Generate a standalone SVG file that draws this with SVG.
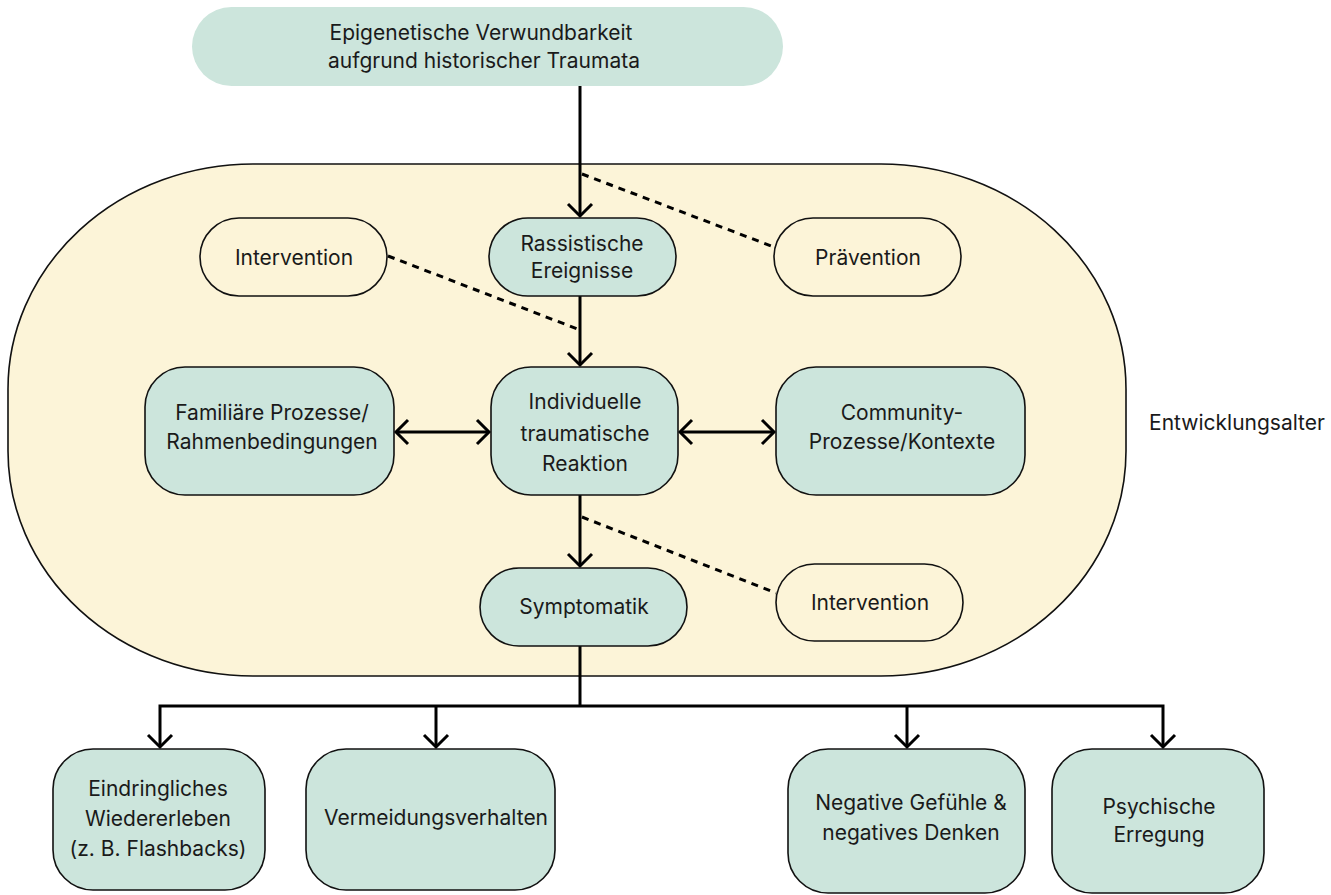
<svg xmlns="http://www.w3.org/2000/svg" width="1331" height="895" viewBox="0 0 1331 895">
<style>
text{font-family:Inter,"Noto Sans","Liberation Sans",sans-serif;font-size:21px;fill:#1a1a1a;text-anchor:middle;dominant-baseline:central}
.g{fill:#cce5dc;stroke:#111;stroke-width:1.6}
.c{fill:#fcf4d8;stroke:#111;stroke-width:1.6}
.ln{fill:none;stroke:#000;stroke-width:3}
.ds{fill:none;stroke:#000;stroke-width:3;stroke-dasharray:7 6}
</style>
<defs>
<marker id="a" viewBox="-14 -14 16 28" refX="0" refY="0" markerWidth="16" markerHeight="28" markerUnits="userSpaceOnUse" orient="auto-start-reverse" overflow="visible">
<path d="M-12,-12 L0,0 L-12,12" fill="none" stroke="#000" stroke-width="3"/>
</marker>
</defs>
<g id="container">
<rect x="8" y="164" width="1118" height="512" rx="245" ry="225" fill="#fcf4d8" stroke="#111" stroke-width="1.6"/>
</g>
<g id="label-entwicklungsalter"><text x="1237" y="422">Entwicklungsalter</text></g>
<g id="connectors">
<line class="ln" x1="580" y1="86" x2="580" y2="216" marker-end="url(#a)"/>
<line class="ln" x1="580" y1="296" x2="580" y2="365" marker-end="url(#a)"/>
<line class="ln" x1="580" y1="495" x2="580" y2="566" marker-end="url(#a)"/>
<line class="ln" x1="396" y1="432" x2="489" y2="432" marker-start="url(#a)" marker-end="url(#a)"/>
<line class="ln" x1="680" y1="432" x2="774" y2="432" marker-start="url(#a)" marker-end="url(#a)"/>
<polyline class="ln" points="580,646 580,706"/>
<polyline class="ln" points="160,747 160,706 1163,706 1163,747" marker-start="url(#a)" marker-end="url(#a)"/>
<line class="ln" x1="436" y1="706" x2="436" y2="747" marker-end="url(#a)"/>
<line class="ln" x1="907" y1="706" x2="907" y2="747" marker-end="url(#a)"/>
<line class="ds" x1="582" y1="174" x2="774" y2="247"/>
<line class="ds" x1="388" y1="256" x2="580" y2="330"/>
<line class="ds" x1="582" y1="517" x2="776" y2="593"/>
</g>
<g id="n-epigenetik">
<rect x="192" y="7" width="591" height="79" rx="39.5" fill="#cce5dc"/>
<text x="481" y="32">Epigenetische Verwundbarkeit</text>
<text x="484" y="60">aufgrund historischer Traumata</text>
</g>
<g id="n-intervention1">
<rect class="c" x="200" y="218" width="187" height="78" rx="39"/>
<text x="294" y="257">Intervention</text>
</g>
<g id="n-rassistisch">
<rect class="g" x="489" y="218" width="187" height="78" rx="39"/>
<text x="582" y="243">Rassistische</text>
<text x="582" y="270">Ereignisse</text>
</g>
<g id="n-praevention">
<rect class="c" x="774" y="218" width="187" height="78" rx="39"/>
<text x="868" y="257">Prävention</text>
</g>
<g id="n-familie">
<rect class="g" x="145" y="367" width="249" height="128" rx="40"/>
<text x="272" y="412">Familiäre Prozesse/</text>
<text x="272" y="441">Rahmenbedingungen</text>
</g>
<g id="n-individuell">
<rect class="g" x="491" y="367" width="187" height="128" rx="40"/>
<text x="585" y="401">Individuelle</text>
<text x="585" y="433">traumatische</text>
<text x="585" y="463">Reaktion</text>
</g>
<g id="n-community">
<rect class="g" x="776" y="367" width="249" height="128" rx="40"/>
<text x="902" y="412">Community-</text>
<text x="902" y="441">Prozesse/Kontexte</text>
</g>
<g id="n-symptomatik">
<rect class="g" x="480" y="568" width="207" height="78" rx="39"/>
<text x="584" y="606">Symptomatik</text>
</g>
<g id="n-intervention2">
<rect class="c" x="776" y="564" width="187" height="77" rx="38.5"/>
<text x="870" y="602">Intervention</text>
</g>
<g id="n-wiedererleben">
<rect class="g" x="53" y="749" width="212" height="141" rx="40"/>
<text x="158" y="788">Eindringliches</text>
<text x="158" y="818">Wiedererleben</text>
<text x="158" y="848">(z. B. Flashbacks)</text>
</g>
<g id="n-vermeidung">
<rect class="g" x="306" y="749" width="249" height="141" rx="40"/>
<text x="436" y="817">Vermeidungsverhalten</text>
</g>
<g id="n-negativ">
<rect class="g" x="788" y="749" width="237" height="144" rx="40"/>
<text x="911" y="802">Negative Gefühle &amp;</text>
<text x="911" y="832">negatives Denken</text>
</g>
<g id="n-erregung">
<rect class="g" x="1052" y="749" width="212" height="144" rx="40"/>
<text x="1159" y="806">Psychische</text>
<text x="1159" y="834">Erregung</text>
</g>
</svg>
